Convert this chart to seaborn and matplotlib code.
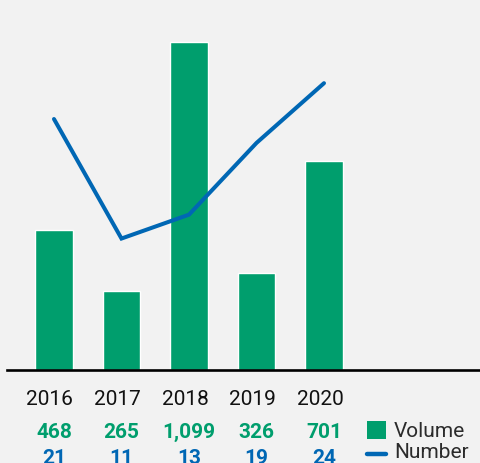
import numpy as np
import pandas as pd
import matplotlib
matplotlib.use("Agg")
import matplotlib.pyplot as plt
import matplotlib.transforms as mtransforms
from matplotlib.patches import Rectangle
from matplotlib.lines import Line2D
import seaborn as sns

# Data
years = ["2016", "2017", "2018", "2019", "2020"]
volume = [468, 265, 1099, 326, 701]
volume_labels = ["468", "265", "1,099", "326", "701"]
number = [21, 11, 13, 19, 24]

GREEN = "#009e6d"
BLUE = "#0067b4"
BG = "#f2f2f2"

sns.set_style("white")
plt.rcParams["font.family"] = ["Roboto", "DejaVu Sans"]

W, H = 480, 463
fig = plt.figure(figsize=(W / 100, H / 100), dpi=100, facecolor=BG)


def fx(px):
    return px / W


def fy(py):
    return 1 - py / H


ax = fig.add_axes([fx(7), fy(370), fx(473), 370 / H])
ax.set_facecolor(BG)

df = pd.DataFrame({"year": years, "volume": volume, "number": number})
sns.barplot(data=df, x="year", y="volume", color=GREEN, width=0.55,
            saturation=1, ax=ax)

ax2 = ax.twinx()
sns.lineplot(x=np.arange(len(years)), y=number, color=BLUE, lw=2.9,
             solid_capstyle="round", solid_joinstyle="miter", ax=ax2)

ax.set_xlim(-0.696, 6.311)
ax.set_ylim(0, 1239.5)
ax2.set_ylim(0, 30.96)

for a in (ax, ax2):
    a.set_xlabel("")
    a.set_ylabel("")
    a.set_xticks([])
    a.set_yticks([])
    for side in ("top", "left", "right", "bottom"):
        a.spines[side].set_visible(False)
ax.spines["bottom"].set_visible(True)
ax.spines["bottom"].set_color("black")
ax.spines["bottom"].set_linewidth(1.9)

# Labels under the baseline: x in data units, y in figure units
trans = mtransforms.blended_transform_factory(ax.transData, fig.transFigure)
for i, (yr, vl, n) in enumerate(zip(years, volume_labels, number)):
    fig.text(i - 0.06, fy(405), yr, transform=trans, ha="center",
             va="baseline", fontsize=15, color="#111111")
    fig.text(i, fy(438), vl, transform=trans, ha="center", va="baseline",
             fontsize=15, fontweight="bold", color=GREEN)
    fig.text(i, fy(463.5), str(n), transform=trans, ha="center",
             va="baseline", fontsize=15, fontweight="bold", color=BLUE)

# Legend
fig.add_artist(Rectangle((fx(367), fy(439)), fx(19), 18 / H,
                         transform=fig.transFigure, color=GREEN, lw=0))
fig.add_artist(Line2D([fx(367), fx(386)], [fy(454), fy(454)],
                      transform=fig.transFigure, color=BLUE, lw=3.2))
fig.text(fx(394), fy(437), "Volume", ha="left", va="baseline",
         fontsize=15, color="#2b2b2b")
fig.text(fx(394), fy(458.5), "Number", ha="left", va="baseline",
         fontsize=15, color="#2b2b2b")

fig.savefig("out.png", dpi=100, facecolor=BG)
